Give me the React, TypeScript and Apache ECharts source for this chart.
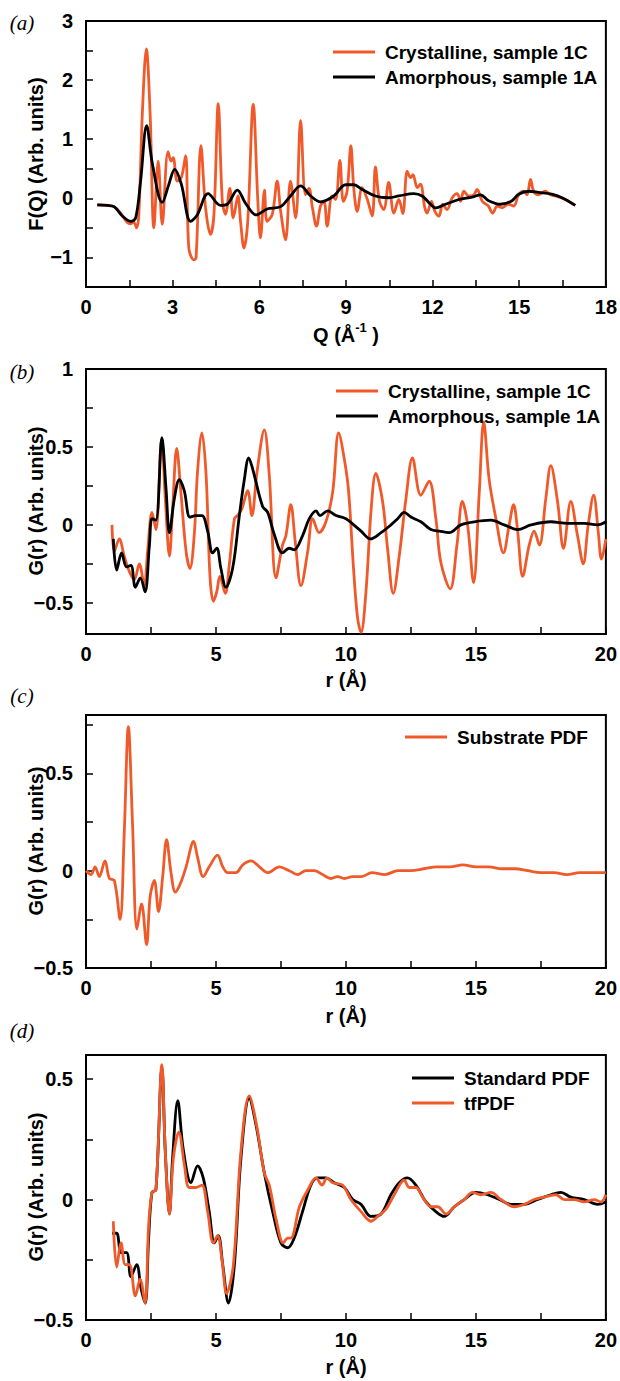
import React, { useEffect, useRef } from 'react';
import * as echarts from 'echarts';

const ORANGE = '#F05A2B';
const BLACK = '#000000';
const FONT = '"Liberation Sans", Arial, Helvetica, sans-serif';

// ---------- Panel (a): F(Q) ----------
const aCrystQ = [0.39, 0.74, 0.97, 1.2, 1.43, 1.55, 1.65, 1.75, 1.83, 1.95, 2.09, 2.22, 2.35, 2.5, 2.64, 2.84, 2.95, 3.02, 3.16, 3.3, 3.45, 3.56, 3.73, 3.81, 3.98, 4.14, 4.31, 4.43, 4.58, 4.72, 4.83, 4.98, 5.1, 5.26, 5.35, 5.47, 5.6, 5.79, 5.95, 6.04, 6.18, 6.27, 6.45, 6.62, 6.74, 6.91, 7.08, 7.26, 7.43, 7.6, 7.72, 7.84, 7.98, 8.12, 8.24, 8.35, 8.52, 8.64, 8.79, 8.91, 9.04, 9.17, 9.27, 9.39, 9.56, 9.74, 9.91, 10.02, 10.16, 10.31, 10.48, 10.66, 10.83, 10.97, 11.12, 11.24, 11.32, 11.47, 11.58, 11.73, 11.81, 11.96, 12.08, 12.22, 12.35, 12.5, 12.68, 12.85, 12.97, 13.08, 13.25, 13.43, 13.54, 13.72, 13.93, 14.08, 14.24, 14.41, 14.62, 14.81, 14.98, 15.16, 15.27, 15.39, 15.5, 15.67, 15.9, 16.08, 16.25, 16.59, 16.94];
const aCrystF = [-0.11, -0.12, -0.14, -0.25, -0.41, -0.43, -0.4, -0.5, -0.27, 1.43, 2.53, 1.43, -0.5, 0.63, -0.44, 0.79, 0.63, 0.69, 0.29, 0.35, 0.72, -0.84, -1.04, -1.01, 0.89, -0.16, -0.61, -0.27, 1.6, -0.05, -0.27, 0.17, -0.33, 0.04, -0.39, -0.84, -0.39, 1.59, -0.05, -0.67, 0.14, -0.39, -0.27, 0.29, -0.22, -0.7, 0.29, -0.33, 1.32, 0.06, 0.17, -0.16, -0.47, -0.13, -0.05, -0.47, 0.04, -0.02, 0.64, -0.05, 0.12, 0.89, 0.18, -0.22, 0.18, -0.02, -0.3, 0.53, -0.05, -0.19, 0.27, -0.25, -0.02, -0.26, 0.46, 0.35, 0.4, 0.18, 0.24, -0.16, -0.25, -0.05, -0.22, -0.3, -0.1, -0.19, 0.01, 0.08, -0.05, 0.12, 0.04, 0.06, 0.15, -0.05, -0.13, -0.25, -0.13, -0.16, -0.1, -0.13, 0.06, 0.12, 0.06, 0.32, 0.12, 0.06, 0.12, 0.06, 0.04, -0.02, -0.12];

const aAmorQ = [0.39, 0.74, 0.97, 1.26, 1.55, 1.72, 1.89, 2.1, 2.3, 2.64, 2.87, 3.07, 3.3, 3.62, 3.85, 4.23, 4.66, 4.89, 5.24, 5.52, 5.89, 6.27, 6.74, 7.08, 7.43, 7.78, 8.12, 8.58, 8.99, 9.27, 9.56, 10.02, 10.48, 10.83, 11.35, 11.64, 11.93, 12.1, 12.45, 12.91, 13.37, 13.66, 13.94, 14.35, 14.75, 14.98, 15.33, 15.67, 16.13, 16.48, 16.94];
const aAmorF = [-0.11, -0.12, -0.14, -0.3, -0.39, -0.33, 0.29, 1.23, 0.58, -0.07, 0.24, 0.49, 0.24, -0.39, -0.28, 0.08, -0.12, -0.1, 0.14, -0.08, -0.28, -0.18, -0.14, 0.04, 0.21, 0.04, -0.06, 0.04, 0.23, 0.23, 0.15, 0.04, 0.01, 0.04, 0.08, 0.04, -0.1, -0.16, -0.1, -0.02, 0.02, 0.06, -0.04, -0.1, -0.04, 0.07, 0.12, 0.1, 0.07, 0.01, -0.12];

// ---------- Panel (b): G(r) ----------
const bCrystR = [1.0, 1.09, 1.28, 1.47, 1.67, 1.86, 2.05, 2.24, 2.37, 2.54, 2.69, 2.91, 3.05, 3.21, 3.33, 3.49, 3.65, 3.85, 4.0, 4.17, 4.29, 4.46, 4.62, 4.77, 4.9, 5.03, 5.15, 5.36, 5.51, 5.71, 5.83, 5.99, 6.22, 6.38, 6.58, 6.86, 7.05, 7.31, 7.56, 7.69, 7.88, 8.05, 8.27, 8.53, 8.72, 8.97, 9.23, 9.49, 9.72, 9.94, 10.1, 10.3, 10.45, 10.58, 10.77, 10.97, 11.15, 11.41, 11.6, 11.82, 12.05, 12.31, 12.56, 12.88, 13.2, 13.46, 13.65, 14.01, 14.27, 14.48, 14.68, 14.91, 15.13, 15.3, 15.51, 15.77, 16.06, 16.28, 16.45, 16.6, 16.8, 17.05, 17.24, 17.44, 17.69, 17.88, 18.14, 18.37, 18.65, 18.91, 19.13, 19.32, 19.53, 19.71, 19.83, 20.0];
const bCrystG = [0.0, -0.17, -0.09, -0.2, -0.3, -0.35, -0.25, -0.39, -0.17, 0.08, -0.03, 0.55, 0.17, -0.2, 0.1, 0.49, 0.21, -0.17, -0.28, -0.05, 0.34, 0.59, 0.32, -0.33, -0.49, -0.43, -0.33, -0.44, -0.26, 0.04, 0.06, 0.1, 0.22, 0.06, 0.34, 0.61, 0.32, -0.34, -0.13, -0.07, 0.13, -0.11, -0.39, -0.17, 0.04, -0.05, 0.02, 0.21, 0.59, 0.42, 0.22, -0.3, -0.6, -0.69, -0.43, 0.1, 0.33, 0.15, -0.15, -0.44, -0.2, 0.17, 0.43, 0.19, 0.28, 0.04, -0.24, -0.41, -0.13, 0.15, 0.0, -0.37, 0.21, 0.66, 0.29, 0.04, -0.18, 0.0, 0.13, -0.03, -0.33, -0.13, -0.04, -0.13, 0.17, 0.38, 0.15, -0.15, 0.15, -0.07, -0.25, 0.0, 0.19, -0.05, -0.22, -0.09];

const bAmorR = [1.05, 1.18, 1.37, 1.56, 1.73, 1.9, 2.09, 2.27, 2.44, 2.54, 2.69, 2.92, 3.08, 3.21, 3.4, 3.59, 3.78, 4.0, 4.23, 4.46, 4.68, 4.87, 5.03, 5.19, 5.38, 5.64, 5.9, 6.09, 6.26, 6.41, 6.79, 6.99, 7.24, 7.56, 7.82, 8.01, 8.33, 8.59, 8.85, 9.0, 9.3, 9.62, 10.0, 10.3, 10.58, 10.94, 11.35, 11.73, 11.99, 12.24, 12.5, 12.88, 13.27, 13.59, 13.97, 14.42, 14.94, 15.58, 16.09, 16.6, 17.12, 17.88, 18.53, 19.17, 19.68, 20.0];
const bAmorG = [-0.09, -0.29, -0.18, -0.27, -0.26, -0.4, -0.34, -0.43, -0.13, 0.04, 0.03, 0.56, 0.23, -0.05, 0.17, 0.29, 0.22, 0.05, 0.06, 0.06, -0.04, -0.18, -0.15, -0.28, -0.4, -0.28, 0.06, 0.29, 0.43, 0.36, 0.12, 0.08, -0.06, -0.18, -0.15, -0.16, -0.07, 0.04, 0.09, 0.06, 0.09, 0.06, 0.04, 0.0, -0.04, -0.09, -0.05, 0.0, 0.04, 0.08, 0.05, 0.02, -0.03, -0.04, -0.05, 0.0, 0.02, 0.03, 0.0, -0.03, 0.0, 0.02, 0.01, 0.01, 0.0, 0.02];

// ---------- Panel (c): substrate PDF ----------
const cSubR = [0.0, 0.2, 0.35, 0.51, 0.73, 0.9, 1.09, 1.31, 1.47, 1.63, 1.79, 1.96, 2.14, 2.33, 2.47, 2.63, 2.79, 2.95, 3.1, 3.27, 3.44, 3.65, 3.85, 4.14, 4.29, 4.51, 4.74, 5.06, 5.26, 5.45, 5.77, 6.03, 6.35, 6.67, 6.99, 7.44, 7.82, 8.14, 8.46, 8.78, 9.1, 9.42, 9.68, 9.94, 10.26, 10.6, 11.0, 11.5, 12.0, 12.5, 13.0, 13.5, 14.0, 14.5, 15.0, 15.5, 16.0, 16.5, 17.0, 17.5, 18.0, 18.5, 19.0, 19.5, 20.0];
const cSubG = [0.0, -0.02, 0.02, -0.03, 0.05, -0.04, -0.05, -0.25, 0.19, 0.74, 0.24, -0.3, -0.17, -0.38, -0.13, -0.05, -0.21, -0.03, 0.16, -0.01, -0.11, -0.06, 0.02, 0.15, 0.07, -0.03, 0.02, 0.08, 0.02, -0.01, -0.01, 0.03, 0.05, 0.02, -0.01, 0.02, 0.0, -0.02, 0.0, 0.0, -0.02, -0.04, -0.03, -0.04, -0.03, -0.03, -0.01, -0.02, 0.0, 0.0, 0.01, 0.02, 0.02, 0.03, 0.02, 0.02, 0.01, 0.01, 0.0, -0.01, -0.01, -0.02, -0.01, -0.01, -0.01];

// ---------- Panel (d): standard vs tfPDF ----------
const dStdR = [1.0, 1.18, 1.35, 1.56, 1.73, 1.95, 2.12, 2.28, 2.41, 2.54, 2.69, 2.92, 3.05, 3.21, 3.33, 3.53, 3.74, 4.04, 4.29, 4.51, 4.74, 4.94, 5.09, 5.26, 5.48, 5.71, 5.96, 6.28, 6.54, 6.86, 7.18, 7.5, 7.76, 8.01, 8.33, 8.65, 8.91, 9.23, 9.55, 9.94, 10.26, 10.58, 10.96, 11.35, 11.73, 12.05, 12.37, 12.69, 13.08, 13.46, 13.78, 14.17, 14.55, 15.0, 15.45, 15.9, 16.35, 16.86, 17.37, 17.88, 18.27, 18.65, 19.17, 19.68, 20.0];
const dStdG = [-0.14, -0.14, -0.22, -0.22, -0.32, -0.27, -0.37, -0.43, -0.16, 0.03, 0.04, 0.55, 0.2, -0.06, 0.17, 0.41, 0.21, 0.07, 0.14, 0.09, -0.05, -0.18, -0.15, -0.27, -0.43, -0.27, 0.17, 0.42, 0.31, 0.11, -0.05, -0.18, -0.2, -0.16, -0.05, 0.06, 0.09, 0.09, 0.07, 0.05, 0.0, -0.02, -0.07, -0.06, 0.02, 0.07, 0.09, 0.06, -0.01, -0.05, -0.07, -0.03, 0.0, 0.03, 0.02, 0.0, -0.02, -0.02, 0.0, 0.02, 0.03, 0.01, 0.0, -0.02, -0.01];

const dTfR = [1.05, 1.18, 1.35, 1.51, 1.67, 1.9, 2.08, 2.27, 2.41, 2.54, 2.69, 2.92, 3.05, 3.21, 3.36, 3.57, 3.79, 3.97, 4.23, 4.46, 4.68, 4.9, 5.06, 5.23, 5.41, 5.67, 5.96, 6.28, 6.56, 6.86, 7.05, 7.31, 7.59, 7.76, 7.88, 8.21, 8.53, 8.85, 9.08, 9.27, 9.49, 9.87, 10.19, 10.58, 10.96, 11.22, 11.54, 11.86, 12.24, 12.44, 12.69, 12.95, 13.27, 13.53, 13.85, 14.17, 14.55, 14.87, 15.19, 15.58, 15.96, 16.47, 16.86, 17.24, 17.63, 18.08, 18.4, 18.78, 19.17, 19.55, 19.81, 20.0];
const dTfG = [-0.09, -0.28, -0.18, -0.27, -0.27, -0.4, -0.33, -0.43, -0.11, 0.03, 0.04, 0.56, 0.2, -0.06, 0.17, 0.28, 0.14, 0.05, 0.05, 0.06, -0.05, -0.18, -0.15, -0.25, -0.39, -0.27, 0.2, 0.43, 0.31, 0.11, 0.06, -0.08, -0.18, -0.16, -0.16, -0.03, 0.04, 0.09, 0.06, 0.09, 0.07, 0.06, 0.0, -0.05, -0.09, -0.07, -0.04, 0.02, 0.08, 0.05, 0.05, 0.01, -0.03, -0.03, -0.06, -0.03, 0.0, 0.03, 0.02, 0.03, 0.0, -0.03, -0.02, 0.0, 0.01, 0.02, 0.0, 0.0, -0.01, 0.0, -0.01, 0.02];

// ---------- Axis ticks / labels ----------
const aXTicks = [0, 1.5, 3, 4.5, 6, 7.5, 9, 10.5, 12, 13.5, 15, 16.5, 18];
const aXLabels = [0, 3, 6, 9, 12, 15, 18];
const aYTicks = [-1.5, -1, -0.5, 0, 0.5, 1, 1.5, 2, 2.5, 3];
const aYLabels = [-1, 0, 1, 2, 3];
const rTicks = [0, 2.5, 5, 7.5, 10, 12.5, 15, 17.5, 20];
const rLabels = [0, 5, 10, 15, 20];
const bYTicks = [-0.5, -0.25, 0, 0.25, 0.5, 0.75, 1];
const bYLabels = [-0.5, 0, 0.5, 1];
const cYTicks = [-0.5, -0.25, 0, 0.25, 0.5, 0.75];
const cYLabels = [-0.5, 0, 0.5];
const dYTicks = [-0.5, -0.25, 0, 0.25, 0.5];
const dYLabels = [-0.5, 0, 0.5];

const zip = (xs: number[], ys: number[]) => xs.map((x, i) => [x, ys[i]]);
const fmt = (v: number) => String(v).replace('-', '\u2212');

const GRIDS = [
  { left: 86, top: 21, width: 521, height: 266 },
  { left: 86, top: 369, width: 521, height: 265 },
  { left: 86, top: 715, width: 521, height: 253 },
  { left: 86, top: 1055, width: 521, height: 265 },
];

function axis(gridIndex: number, min: number, max: number, ticks: number[], labels: number[], isX: boolean) {
  return {
    type: 'value',
    gridIndex,
    min,
    max,
    axisLine: { show: true, onZero: false, lineStyle: { color: BLACK, width: 2 } },
    axisTick: { show: true, inside: true, length: 7, lineStyle: { color: BLACK, width: 1.5 }, customValues: ticks },
    axisLabel: {
      customValues: labels,
      margin: isX ? 10 : 13,
      color: BLACK,
      fontSize: 20,
      fontWeight: 'bold',
      fontFamily: FONT,
      formatter: fmt,
    },
    splitLine: { show: false },
  };
}

function line(name: string, xi: number, data: number[][], color: string, z = 2) {
  return {
    type: 'line',
    name,
    xAxisIndex: xi,
    yAxisIndex: xi,
    data,
    symbol: 'none',
    smooth: 0.35,
    clip: true,
    z,
    lineStyle: { color, width: 2.8 },
    itemStyle: { color },
  };
}

function legend(names: string[], left: number, top: number) {
  return {
    data: names,
    left,
    top,
    padding: 0,
    orient: 'vertical',
    icon: 'rect',
    itemWidth: 42,
    itemHeight: 3,
    itemGap: 5,
    selectedMode: false,
    textStyle: { fontSize: 19, fontWeight: 'bold', fontFamily: FONT, color: BLACK, lineHeight: 20, padding: [0, 0, 0, 5] },
  };
}

const boldTitle = { fontSize: 20, fontWeight: 'bold', fontFamily: FONT, fill: BLACK };

function yTitle(text: string, cy: number) {
  return { type: 'text', x: 36, y: cy, rotation: Math.PI / 2, style: { ...boldTitle, text, align: 'center', verticalAlign: 'middle' } };
}
function xTitleR(cy: number) {
  return { type: 'text', x: 346, y: cy, style: { ...boldTitle, text: 'r (Å)', align: 'center', verticalAlign: 'middle' } };
}
function panelLabel(text: string, cy: number) {
  return {
    type: 'text',
    x: 22,
    y: cy,
    style: { text, fontSize: 21, fontStyle: 'italic', fontFamily: '"Liberation Serif", "DejaVu Serif", serif', fill: BLACK, align: 'center', verticalAlign: 'middle' },
  };
}

export default function App() {
  const ref = useRef<HTMLDivElement>(null);
  useEffect(() => {
    if (!ref.current) return;
    const chart = echarts.init(ref.current, undefined, { renderer: 'svg' });
    const option = {
      animation: false,
      backgroundColor: '#ffffff',
      grid: GRIDS.map((g) => ({ ...g, show: true, borderColor: BLACK, borderWidth: 2, containLabel: false })),
      xAxis: [
        axis(0, 0, 18, aXTicks, aXLabels, true),
        axis(1, 0, 20, rTicks, rLabels, true),
        axis(2, 0, 20, rTicks, rLabels, true),
        axis(3, 0, 20, rTicks, rLabels, true),
      ],
      yAxis: [
        axis(0, -1.5, 3, aYTicks, aYLabels, false),
        axis(1, -0.7, 1, bYTicks, bYLabels, false),
        axis(2, -0.5, 0.8, cYTicks, cYLabels, false),
        axis(3, -0.5, 0.6, dYTicks, dYLabels, false),
      ],
      legend: [
        legend(['Crystalline, sample 1C', 'Amorphous, sample 1A'], 333, 42),
        legend(['Crystalline, sample 1C', 'Amorphous, sample 1A'], 336, 381),
        legend(['Substrate PDF'], 405, 727),
        legend(['Standard PDF', 'tfPDF'], 412, 1068),
      ],
      series: [
        line('Crystalline, sample 1C', 0, zip(aCrystQ, aCrystF), ORANGE, 2),
        line('Amorphous, sample 1A', 0, zip(aAmorQ, aAmorF), BLACK, 3),
        line('Crystalline, sample 1C', 1, zip(bCrystR, bCrystG), ORANGE, 2),
        line('Amorphous, sample 1A', 1, zip(bAmorR, bAmorG), BLACK, 3),
        line('Substrate PDF', 2, zip(cSubR, cSubG), ORANGE, 2),
        line('Standard PDF', 3, zip(dStdR, dStdG), BLACK, 2),
        line('tfPDF', 3, zip(dTfR, dTfG), ORANGE, 3),
      ],
      graphic: [
        panelLabel('(a)', 23),
        panelLabel('(b)', 372),
        panelLabel('(c)', 696),
        panelLabel('(d)', 1031),
        yTitle('F(Q) (Arb. units)', 154),
        yTitle('G(r) (Arb. units)', 501),
        yTitle('G(r) (Arb. units)', 841),
        yTitle('G(r) (Arb. units)', 1187),
        {
          type: 'text',
          x: 346,
          y: 333,
          style: {
            text: '{n|Q (Å}{s|-1}{n| )}',
            align: 'center',
            verticalAlign: 'middle',
            rich: {
              n: { ...boldTitle, lineHeight: 24, verticalAlign: 'bottom' },
              s: { fontSize: 13, fontWeight: 'bold', fontFamily: FONT, fill: BLACK, lineHeight: 14, verticalAlign: 'top' },
            },
          },
        },
        xTitleR(680),
        xTitleR(1016),
        xTitleR(1367),
      ],
    };
    chart.setOption(option as any);
    return () => chart.dispose();
  }, []);
  return <div ref={ref} style={{ position: 'absolute', left: 0, top: 0, width: 620, height: 1381 }} />;
}
